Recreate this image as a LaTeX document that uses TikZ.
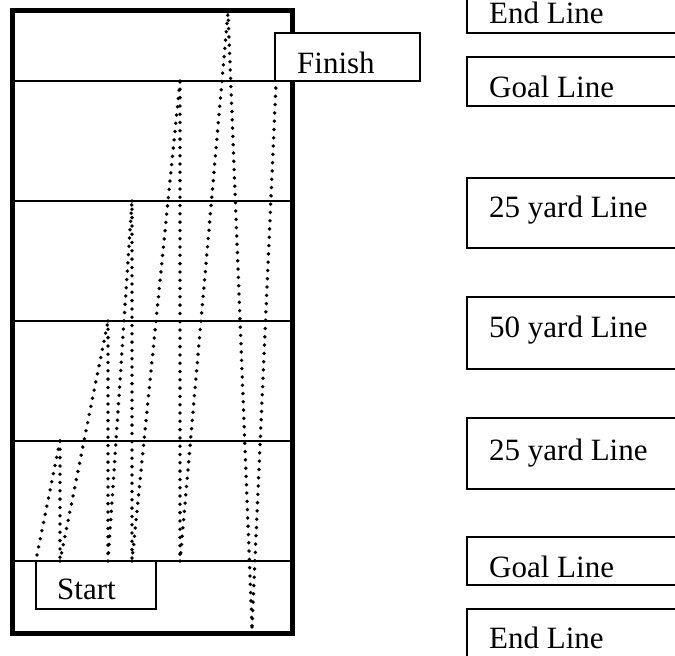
\documentclass[tikz,border=0pt]{standalone}
\usepackage{fontspec}
\setmainfont{Liberation Serif}
\begin{document}
\begin{tikzpicture}[x=1pt,y=-1pt,
  field/.style={line width=1.4pt},
  frame/.style={line width=5pt},
  box/.style={line width=1.6pt},
  lbl/.style={anchor=base west,inner sep=0pt,font=\fontsize{31}{36}\selectfont},
  run/.style={line width=3.8pt,line cap=round,dash pattern=on 0pt off 8.3pt}]
\useasboundingbox (0,0) rectangle (675,656);
\clip (0,0) rectangle (675,656);
% yard lines across the field
\foreach \y in {81,201,321,441,561}{\draw[field] (14,\y) -- (291,\y);}
% outer frame
\draw[frame] (12.5,10) rectangle (292.5,633);
% Finish and Start boxes
\draw[box,fill=white] (275,33) rectangle (420,81);
\node[lbl] (finish) at (297,73) {Finish};
\draw[box,fill=white] (36,561) rectangle (156,609);
\node[lbl] (start) at (57,599) {Start};
% legend boxes on the right
\draw[box] (467,-5) rectangle (690,33);
\node[lbl] (end1) at (489,23) {End Line};
\draw[box] (467,57) rectangle (690,106);
\node[lbl] (goal1) at (489,97) {Goal Line};
\draw[box] (467,178) rectangle (690,248);
\node[lbl] (y25a) at (489,217) {25 yard Line};
\draw[box] (467,297) rectangle (690,369);
\node[lbl] (y50) at (489,337) {50 yard Line};
\draw[box] (467,418) rectangle (690,489);
\node[lbl] (y25b) at (489,460) {25 yard Line};
\draw[box] (467,537) rectangle (690,585);
\node[lbl] (goal2) at (489,577) {Goal Line};
\draw[box] (467,609) rectangle (690,680);
\node[lbl] (end2) at (489,648) {End Line};
% running path
\coordinate (s0) at (37,555);
\coordinate (a1) at (60,441);
\coordinate (a2) at (60,561);
\coordinate (b1) at (108,321);
\coordinate (b2) at (108,561);
\coordinate (c1) at (132,201);
\coordinate (c2) at (132,561);
\coordinate (d1) at (180,81);
\coordinate (d2) at (180,561);
\coordinate (e1) at (228,12);
\coordinate (e2) at (252,627);
\coordinate (f0) at (276,84);
\draw[run] (s0) -- (a1);
\draw[run] (a1) -- (a2);
\draw[run] (a2) -- (b1);
\draw[run] (b1) -- (b2);
\draw[run] (b2) -- (c1);
\draw[run] (c1) -- (c2);
\draw[run] (c2) -- (d1);
\draw[run] (d1) -- (d2);
\draw[run] (d2) -- (e1);
\draw[run] (e1) -- (e2);
\draw[run] (e2) -- (f0);
\end{tikzpicture}
\end{document}
